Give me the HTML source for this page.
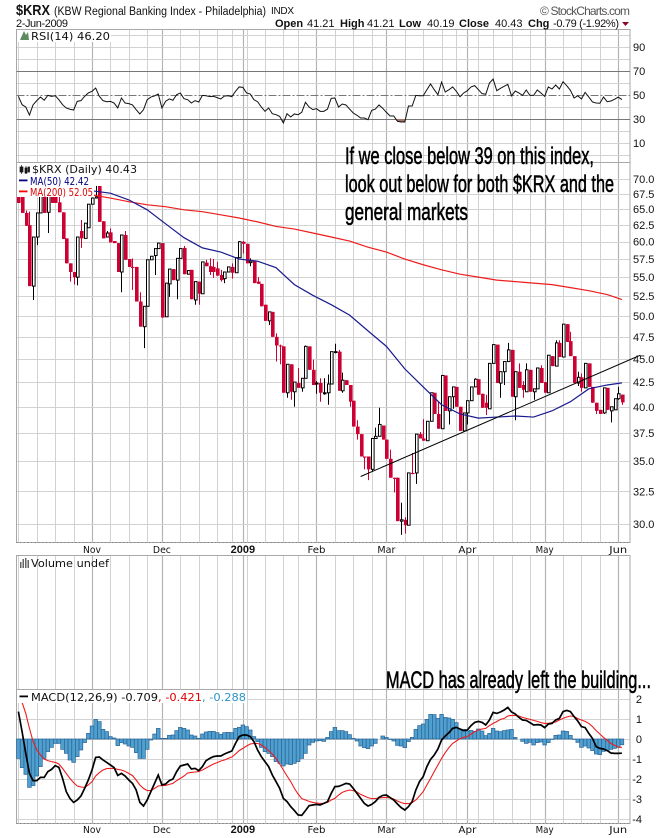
<!DOCTYPE html>
<html lang="en">
<head>
<meta charset="utf-8">
<title>$KRX chart</title>
<style>
html,body{margin:0;padding:0;background:#fff;}
svg{display:block;}
text{font-family:"Liberation Sans",sans-serif;fill:#111;}
.mono{font-family:"DejaVu Sans",sans-serif;font-size:10.5px;}
.month{font-family:"DejaVu Sans",sans-serif;font-size:10px;}
.leg{font-family:"DejaVu Sans",sans-serif;font-size:10.5px;}
.note{font-family:"Liberation Sans Narrow","Liberation Sans",sans-serif;font-size:24px;fill:#000;stroke:#000;stroke-width:.55;}
</style>
</head>
<body>
<svg id="chart" xmlns="http://www.w3.org/2000/svg" width="670" height="838" viewBox="0 0 670 838">
  <rect width="670" height="838" fill="#fff"/>
  <g id="grid"></g>
  <g id="rsiLayer"></g>
  <g id="priceLayer"></g>
  <g id="macdLayer"></g>
  <g id="axes"></g>

  <g>
    <text x="16" y="15" font-size="15" font-weight="bold" textLength="34" lengthAdjust="spacingAndGlyphs">$KRX</text>
    <text x="54" y="15" font-size="11.5" textLength="212" lengthAdjust="spacingAndGlyphs">(KBW Regional Banking Index - Philadelphia)</text>
    <text x="271" y="14" font-size="10" textLength="23">INDX</text>
    <text x="16" y="27" font-size="11" textLength="52">2-Jun-2009</text>
    <text x="540" y="15" font-size="12" fill="#555" style="fill:#555" textLength="90">© StockCharts.com</text>
    <text x="275" y="27" font-size="11" font-weight="bold">Open</text>
    <text x="307" y="27" font-size="11">41.21</text>
    <text x="340" y="27" font-size="11" font-weight="bold">High</text>
    <text x="367" y="27" font-size="11">41.21</text>
    <text x="399" y="27" font-size="11" font-weight="bold">Low</text>
    <text x="427" y="27" font-size="11">40.19</text>
    <text x="459" y="27" font-size="11" font-weight="bold">Close</text>
    <text x="495" y="27" font-size="11">40.43</text>
    <text x="528" y="27" font-size="11" font-weight="bold">Chg</text>
    <text x="553" y="27" font-size="11" textLength="66">-0.79 (-1.92%)</text>
    <polygon points="622,22 629,22 625.5,26" fill="#8b0a2a"/>
  </g>

  <g>
    <rect x="17" y="30" width="94" height="12" fill="#fff"/>
    <polygon points="20,40 24,31 26,35 28,32 29,40" fill="#5f8a5f"/>
    <text class="mono" x="31" y="40" textLength="79" lengthAdjust="spacingAndGlyphs">RSI(14) 46.20</text>
  </g>

  <g>
    <rect x="17" y="163" width="77" height="34" fill="#fff"/>
    <rect x="17" y="163" width="121" height="11" fill="#fff"/>
    <path d="M20 167h3v5h-3zM21.500 165v9M25 168h2v5h-2zM26 166v8M28 167h1.500v5H28z" fill="#222" stroke="#111" stroke-width=".7"/>
    <text class="mono" x="32" y="173" textLength="105" lengthAdjust="spacingAndGlyphs">$KRX (Daily) 40.43</text>
    <rect x="19" y="179.500" width="8.500" height="1.800" fill="#000080"/>
    <text class="leg" x="30" y="185" style="fill:#000080" textLength="59" lengthAdjust="spacingAndGlyphs">MA(50) 42.42</text>
    <rect x="19" y="190.500" width="8.500" height="1.800" fill="#ff0000"/>
    <text class="leg" x="30" y="196" style="fill:#e00000" textLength="63" lengthAdjust="spacingAndGlyphs">MA(200) 52.05</text>
  </g>

  <g>
    <path d="M20 562h1.500v6H20zM22.500 559h1.500v9h-1.500zM25 558h1.500v10H25zM27.500 560h1.500v8h-1.500z" fill="#666"/>
    <text class="mono" x="31" y="567" textLength="78" lengthAdjust="spacingAndGlyphs">Volume undef</text>
  </g>

  <g>
    <rect x="17" y="690" width="230" height="13" fill="#fff"/>
    <rect x="19.500" y="695.500" width="8.500" height="1.800" fill="#000"/>
    <text class="mono" x="31" y="701" textLength="215" lengthAdjust="spacingAndGlyphs"><tspan>MACD(12,26,9) -0.709</tspan><tspan style="fill:#e00000">, -0.421</tspan><tspan style="fill:#2e93c9">, -0.288</tspan></text>
  </g>

  <g>
    <text class="note" x="345" y="164" textLength="249" lengthAdjust="spacingAndGlyphs">If we close below 39 on this index,</text>
    <text class="note" x="345" y="192" textLength="269" lengthAdjust="spacingAndGlyphs">look out below for both $KRX and the</text>
    <text class="note" x="345" y="220" textLength="123" lengthAdjust="spacingAndGlyphs">general markets</text>
    <text class="note" x="386" y="688" textLength="265" lengthAdjust="spacingAndGlyphs">MACD has already left the building...</text>
  </g>
</svg>

<script>
const weekBars = [0,5,10,15,25,30,35,44,49,54,58,62,67,72,76,86,91,96,105,110,115,119,125,129,134,139,148,153,158];
const monthBars = [20,39,61,81,100,122,143,163];
const monthNames = ['Nov','Dec','2009','Feb','Mar','Apr','May','Jun'];
const rsiTicks = [90,70,50,30,10];
const rsiGridLevels = [100,90,80,60,40,20,10,0];
const priceTicks = [70,67.5,65,62.5,60,57.5,55,52.5,50,47.5,45,42.5,40,37.5,35,32.5,30];
const macdTicks = [2,1,0,-1,-2,-3,-4];

const opens = [68.1,67.3,64.4,62.5,53.8,60.7,64.4,68.1,64.5,68.1,
68.1,66.1,64.5,60.5,56.9,55.7,55.0,61.6,60.5,62.1,
65.8,66.8,68.8,63.1,60.7,61.4,60.1,59.8,55.7,61,
57.5,56.4,56.4,51.8,48.7,51.2,57.4,58,59,59.8,
49.9,54.1,56.1,54.6,57.6,59.1,55.4,56,52,54.4,
52.8,57,56.5,56.4,56.2,55.3,54.8,55.7,56.4,55.6,
57.7,60,59.7,57,57.2,54.4,54.1,51.4,49.4,50.5,
47.5,46.5,46.4,41.4,44.4,41.5,42.4,41.9,42.9,46.4,
43.8,42.3,42.4,41.3,41.4,42.3,45.7,45.8,41.6,42.7,
42.2,40.6,38.1,37.4,35.4,35.4,34.3,37,37.2,38.2,
36.9,35.2,33.6,33.6,30.2,30.3,29.9,34,34,37.4,
37,36.8,38.6,41.4,39.3,37.9,43.2,39.6,41,42,
40,37.7,39.4,40.6,42,42.8,41.3,40.4,39.8,44.5,
46.6,42.4,43.6,44.7,46,41,43.6,42.2,41.5,43.8,
41.5,41.8,44,42.5,41.4,45.3,44.2,46.8,45.2,49,
47,45.3,42.4,43,41.9,44.5,42,40.4,39.7,39.4,
41.9,39.6,39.7,40.8,41.21];

const highs = [69,68,64.8,64.6,60.7,64.4,68.1,69,68.5,69,
68.6,67,64.5,60.5,56.9,55.7,60.7,63.3,62.8,65.8,
66.8,68.8,68.8,63.1,61.6,62,60.1,59.8,61,61.6,
57.5,57.6,56.4,53,51.2,57.4,57.9,59,59.8,59.8,
54.2,56.1,56.1,57.6,59,59.4,55.9,56,54.4,54.4,
57.1,57.4,57.6,57.5,57.1,56,55.7,56.4,56.9,57.7,
60.1,60.1,59.7,57.6,57.2,55,54.1,51.4,50.5,50.5,
47.9,46.6,46.4,44.4,44.4,42.5,44,42.9,46.5,46.4,
44.9,42.6,42.9,42.9,43.3,45.8,46.7,46,43.5,42.7,
42.2,40.6,38.7,37.4,35.4,35.4,37,38,39.9,38.2,
36.9,36,33.6,33.6,31.6,30.5,34,35.7,37.4,37.6,
38.8,38.6,41.4,41.4,40.5,43.2,43.2,41,42,42,
40,39.4,40.6,42,42.9,42.8,41.3,41.2,44.5,46.6,
46.6,43.6,44.7,46.8,46,43.6,44.5,42.6,44.5,43.8,
41.8,44,44.3,42.5,45.4,45.3,47.1,47.1,49,49,
48.1,45.3,43.6,43.4,44.5,44.5,42,40.4,39.7,41.9,
41.9,40,40.8,42,41.21];

const lows = [66,64.4,62.4,53.8,52,59.5,64.4,64.4,61.3,66,
66,64.5,60.4,56.9,54.4,54,53.9,59.1,60.5,62.1,
65.8,66.8,63,60.5,60.7,59.9,59.8,55.7,53,57.4,
56.4,53.3,51.8,48.7,46.2,51.2,57.4,55.3,59,49.8,
49.9,52.4,54.6,52.1,57.6,55.4,55.4,52.1,51.4,51.4,
52.8,56.5,55.3,54.9,55.2,54.4,54.2,55.7,54.8,55.6,
57.7,58.3,56.9,56.5,54.2,54.1,51.2,49.4,48.9,47.5,
44.7,44.4,41.4,40.9,40.7,40,41.9,41.5,42.9,43.8,
42.2,41.3,40.5,41.2,40.2,42.3,45.6,41.6,41.4,42.2,
40,38.1,36.9,35.4,34.3,33.4,34.1,37,37.2,36.9,
35.2,33.6,32.4,30.2,29.2,29.3,29.9,33.9,33.1,37,
36.8,36.8,38.6,39.3,37.9,37.9,39.6,38.3,39.8,40,
37.7,37.7,38.3,40.6,42,41.2,39.9,39.2,39.8,44.5,
42.4,40.9,42.2,44.7,41,38.7,41.9,40.9,41.5,41.5,
40.7,41.8,42.4,41.4,41.4,44.2,44.2,45.2,45.2,46.9,
45.3,42.4,42.1,41.5,41.9,42,40.4,39.3,39.3,39.3,
39.7,38.5,39.7,40.7,40.19];

const closes = [66,64.4,62.4,53.8,60.7,64.4,68.1,64.4,67.8,66,
66,64.5,60.4,56.9,55.7,55,60.7,60.5,62.8,65.8,
66.8,67,63,60.5,61.3,59.9,59.8,55.7,61,57.4,
56.4,56.3,51.8,48.7,51.2,57.4,57.9,59,59.8,49.8,
54.2,56.1,54.6,57.6,59,55.4,55.9,52.1,54.4,52.8,
57.1,56.5,55.7,55.7,55.2,54.6,55.7,56.4,55.6,57.7,
60,59.7,56.9,57.2,54.2,54.1,51.2,49.4,50.5,47.5,
46.5,46.4,41.4,44.4,41.5,42.5,41.9,42.9,46.4,43.8,
42.2,42.4,41.4,41.4,42.3,45.8,45.8,41.6,42.7,42.2,
40.5,38.1,37.4,35.4,35.3,34.3,37,37.2,38.3,36.9,
35.2,33.6,33.5,30.2,30.3,29.9,34,33.9,37.4,37,
36.8,38.6,41.4,39.3,37.9,43.2,39.6,41,42,40,
37.7,39.4,40.6,42,42.8,41.2,39.9,39.9,44.5,46.6,
42.4,43.6,44.7,46,41,43.6,41.9,41.7,43.8,41.5,
41.8,44,42.4,41.4,45.4,44.2,46.8,45.2,49,46.9,
45.3,42.4,43,41.9,44.5,42,40.4,39.6,39.3,41.9,
39.7,40,40.8,41.3,40.43];

const maBars = [0,5,10,15,20,25,30,35,40,45,50,55,60,65,70,75,80,85,90,95,100,105,110,115,120,125,130,135,140,145,150,155,160,164];
const ma50 = [69,68.8,68.6,68.5,68,67.6,66.5,64.9,62.7,60.6,59.1,58.5,57.5,57.2,56.3,54,52.6,51.4,50.1,48.2,46.4,43.9,42,40.2,39.3,38.9,39,39.1,39,39.6,40.5,41.8,42.2,42.42];
const ma200 = [68.8,68.5,68.1,67.6,67.3,66.8,66.2,65.7,65.4,64.9,64.6,64.1,63.6,63,62.3,61.9,61.3,60.7,60.1,59.2,58.5,57.5,56.7,56,55.4,55,54.6,54.4,54.2,54,53.6,53.2,52.7,52.05];

const trendBars = [93,169];
const trendPrices = [33.7,45.4];

const rsi = [48.9,41.9,40,33.3,41.9,45.3,48.3,45.6,49.7,48.9,
49.4,46.1,41.9,39.2,38.1,37.5,44.7,45.3,48.9,51.7,
53.1,55.8,48.9,45.3,44.4,44.7,43.3,39.2,47.5,43.3,
42.8,41.7,37.8,34.2,37.8,46.1,48.3,49.2,50.8,39.2,
44.7,46.7,45.6,50.3,51.7,46.9,46.1,43.3,45.3,44.2,
49.7,49.4,48.6,48.9,47.8,46.7,49.2,49.4,48.6,53.1,
56.7,56.4,51.7,50.8,46.1,44.4,40,36.4,39.2,34.4,
33.6,32.2,26.7,34.4,31.7,34.2,33.6,35.6,43.9,40,
37.8,38.6,36.4,36.4,38.3,47.2,47.5,40,42.5,41.7,
38.3,35,33.1,30.8,30.8,29.4,37.2,38.3,41.7,38.9,
35.6,32.5,32.5,28.1,27.5,27.5,40.8,40.8,49.7,49.4,
49.4,54.4,59.2,54.4,50.3,60.8,52.5,54.4,56.7,53.1,
48.6,51.7,53.6,56.7,57.8,54.4,51.1,50.6,60,63.3,
53.6,55.6,57.2,58.9,49.2,53.3,51.7,49.7,54.2,49.7,
49.7,54.2,51.7,48.9,56.7,55,58.3,55,61.1,57.8,
53.9,47.5,49.4,46.7,52.2,48.3,44.2,43.3,43.1,48.3,
44.4,45,46.4,48.3,46.2];

const macd = [1.37,.37,-.72,-1.72,-2.08,-2.08,-1.92,-1.92,-1.63,-1.52,
-1.33,-1.42,-1.97,-2.63,-2.97,-3.17,-3.05,-2.85,-2.47,-2.05,
-1.55,-.92,-.90,-1.05,-1.17,-1.30,-1.43,-1.82,-1.72,-1.85,
-2.05,-2.22,-2.55,-3.17,-3.35,-3.05,-2.63,-2.22,-1.80,-2.30,
-2.25,-2.08,-2.0,-1.63,-1.35,-1.30,-1.25,-1.5,-1.47,-1.58,
-1.38,-1.08,-.97,-.88,-.85,-.85,-.75,-.67,-.60,-.22,
.12,.2,.2,.12,-.13,-.55,-.88,-1.13,-1.38,-1.8,
-2.13,-2.47,-2.97,-3.13,-3.38,-3.58,-3.8,-3.82,-3.58,-3.33,
-3.3,-3.27,-3.3,-3.22,-3.13,-2.72,
-2.38,-2.37,-2.3,-2.22,-2.25,-2.47,-2.72,-2.97,-3.22,-3.35,
-3.27,-3.13,-2.92,-2.82,-2.8,-2.93,-3.05,-3.25,-3.43,-3.55,
-3.38,-3.13,-2.55,-2.13,-1.88,-1.38,-1.02,-.8,-.5,-.05,
.15,.32,.53,.58,.5,.42,.45,.67,.83,.88,
.83,.7,.95,1.33,1.28,1.35,1.45,1.58,1.35,1.25,
1.08,.95,.93,.82,.7,.72,.7,.57,.75,.78,
.95,1.03,1.37,1.43,1.37,1.12,.9,.62,.57,.28,
.03,-.38,-.47,-.5,-.58,-.7,-.72,-.72,-.709];

const signal = [2.45,1.83,1.28,.53,-.13,-.55,-.8,-1,-1.08,-1.13,
-1.17,-1.25,-1.47,-1.72,-1.97,-2.18,-2.35,-2.4,-2.42,-2.3,
-2.13,-1.85,-1.68,-1.55,-1.48,-1.47,-1.47,-1.52,-1.55,-1.62,
-1.72,-1.83,-2.05,-2.3,-2.47,-2.58,-2.58,-2.47,-2.35,-2.33,
-2.32,-2.27,-2.22,-2.08,-1.97,-1.85,-1.7,-1.67,-1.65,-1.63,
-1.55,-1.45,-1.35,-1.25,-1.18,-1.1,-1.05,-.97,-.9,-.75,
-.58,-.47,-.35,-.25,-.22,-.22,-.3,-.42,-.58,-.75,
-.97,-1.25,-1.55,-1.85,-2.13,-2.47,-2.75,-2.98,-3.05,-3.12,
-3.17,-3.2,-3.22,-3.22,-3.17,-3.05,
-2.97,-2.8,-2.67,-2.6,-2.55,-2.58,-2.65,-2.77,-2.85,-2.93,
-2.98,-2.97,-2.95,-2.93,-2.92,-2.95,-3,-3.1,-3.18,-3.23,
-3.23,-3.18,-3.05,-2.85,-2.63,-2.3,-1.97,-1.63,-1.3,-.97,
-.68,-.43,-.22,-.1,.02,.08,.12,.25,.37,.45,
.5,.53,.67,.78,.87,.98,1.03,1.15,1.18,1.18,
1.15,1.08,1.03,.98,.93,.88,.82,.78,.78,.82,
.85,.95,1.03,1.1,1.15,1.12,1.02,.95,.88,.78,
.62,.42,.25,.08,-.07,-.22,-.32,-.4,-.421];

const hist = [-.97,-1.43,-1.77,-2.42,-2.33,-1.85,-1.38,-.97,-.63,-.42,
-.22,-.22,-.52,-.72,-1.05,-1.17,-.88,-.55,-.18,.28,
.65,.98,.87,.48,.37,.12,.05,-.33,-.18,-.25,
-.35,-.42,-.68,-.97,-.97,-.52,-.05,.25,.53,.03,
.03,.18,.2,.42,.58,.53,.45,.2,.15,.03,
.25,.35,.38,.38,.32,.23,.32,.33,.32,.53,
.58,.7,.62,.45,.12,-.13,-.42,-.63,-.72,-.88,
-1.13,-1.22,-1.35,-1.25,-1.28,-1.22,-1.13,-.97,-.72,-.3,
-.17,-.1,-.08,-.12,.08,.37,
.58,.42,.42,.37,.22,.03,-.1,-.35,-.43,-.48,
-.35,-.22,0,.15,.08,-.02,-.1,-.32,-.35,-.43,
-.13,.08,.48,.67,.75,.98,1.23,1.22,1.03,1.23,
1.08,1.05,.98,.82,.5,.48,.4,.43,.38,.5,
.4,.17,.28,.53,.4,.37,.42,.45,.48,.08,
0,-.12,-.22,-.17,-.3,-.18,-.15,-.3,-.18,-.02,
.18,.2,.4,.38,.18,-.02,-.17,-.42,-.35,-.45,
-.58,-.75,-.78,-.62,-.58,-.52,-.47,-.42,-.288];

const NS = 'http://www.w3.org/2000/svg';
const PLOT_LEFT = 16.5, PLOT_RIGHT = 630;
const PANELS = {rsi:[29,162], price:[162,542], volume:[555,689], macd:[689,823]};

function xScale(i){ return 18.4 + 3.68 * i; }
function yRsi(v){ return 95 - (v - 50) * 1.2; }
function yPrice(p){ return 179 + 407 * Math.log(70 / p); }
function yMacd(v){ return 739 - 20 * v; }

function make(parent, tag, attrs){
  const node = document.createElementNS(NS, tag);
  for (const k in attrs) node.setAttribute(k, attrs[k]);
  parent.appendChild(node);
  return node;
}
function pointsOf(values, yFn, barsOf){
  return values.map((v, k) => xScale(barsOf ? barsOf[k] : k).toFixed(2) + ',' + yFn(v).toFixed(2)).join(' ');
}

const gridLayer = document.getElementById('grid');
const rsiLayer = document.getElementById('rsiLayer');
const priceLayer = document.getElementById('priceLayer');
const macdLayer = document.getElementById('macdLayer');
const axes = document.getElementById('axes');

/* vertical grid */
Object.keys(PANELS).forEach(function(name){
  const span = PANELS[name];
  weekBars.forEach(function(b){
    const x = Math.round(xScale(b)) + .5;
    const el = make(gridLayer, 'line', {x1:x, x2:x, y1:span[0], y2:span[1], stroke:'#d2d2d2', 'stroke-width':1});
    
    
  });
  monthBars.forEach(function(b){
    const x = Math.round(xScale(b)) + .5;
    const el = make(gridLayer, 'line', {x1:x, x2:x, y1:span[0], y2:span[1], stroke:'#b4b4b4', 'stroke-width':1.2});
    
    
  });
});

/* horizontal grid */
function hGrid(y, color, name){
  const yy = Math.round(y) + .5;
  const el = make(gridLayer, 'line', {x1:PLOT_LEFT, x2:PLOT_RIGHT, y1:yy, y2:yy, stroke:color, 'stroke-width':1});
  
  
  return el;
}
rsiGridLevels.forEach(function(v){ hGrid(yRsi(v), '#d2d2d2', 'rsi-gridline'); });
priceTicks.forEach(function(p){ hGrid(yPrice(p), '#d2d2d2', 'price-gridline'); });
macdTicks.forEach(function(v){ hGrid(yMacd(v), '#d2d2d2', 'macd-gridline'); });

/* panel frames */
Object.keys(PANELS).forEach(function(name){
  const span = PANELS[name];
  const el = make(gridLayer, 'rect', {x:PLOT_LEFT, y:span[0] + .5, width:PLOT_RIGHT - PLOT_LEFT, height:span[1] - span[0], fill:'none', stroke:'#a8a8a8', 'stroke-width':1});
  
  
});
[542.5, 823.5].forEach(function(y){
  const el = make(gridLayer, 'line', {x1:PLOT_LEFT, x2:PLOT_RIGHT, y1:y, y2:y, stroke:'#777', 'stroke-width':1, 'stroke-dasharray':'1 2.68'});
  
  
});

/* RSI reference lines */
[70,30].forEach(function(v){
  const yy = Math.round(yRsi(v)) + .5;
  const el = make(rsiLayer, 'line', {x1:PLOT_LEFT, x2:PLOT_RIGHT, y1:yy, y2:yy, stroke:'#777', 'stroke-width':1});
  
  
});
const midY = Math.round(yRsi(50)) + .5;
const midLine = make(rsiLayer, 'line', {x1:PLOT_LEFT, x2:PLOT_RIGHT, y1:midY, y2:midY, stroke:'#777', 'stroke-width':1, 'stroke-dasharray':'8 2 2 2'});



/* RSI oversold fill */
const clip = make(document.getElementById('chart'), 'clipPath', {id:'below30'});
const clipRect = make(clip, 'rect', {x:0, y:yRsi(30), width:670, height:30});


const rsiFill = make(rsiLayer, 'polygon', {
  points: xScale(0) + ',' + yRsi(30) + ' ' + pointsOf(rsi, yRsi) + ' ' + xScale(rsi.length - 1) + ',' + yRsi(30),
  fill:'#a5756b', 'clip-path':'url(#below30)'
});


const rsiLine = make(rsiLayer, 'polyline', {points:pointsOf(rsi, yRsi), fill:'none', stroke:'#111', 'stroke-width':1});



/* candles */
closes.forEach(function(c, i){
  const o = opens[i], h = highs[i], l = lows[i];
  const x = Math.round(xScale(i));
  const up = c >= o;
  const color = up ? '#000' : '#cc0033';
  const wick = make(priceLayer, 'line', {x1:x + .5, x2:x + .5, y1:yPrice(h), y2:yPrice(l), stroke:color, 'stroke-width':1});
  
  
  const top = yPrice(Math.max(o, c)), bottom = yPrice(Math.min(o, c));
  let body;
  if (up) {
    body = make(priceLayer, 'rect', {x:x - .5, y:top, width:2.6, height:Math.max(bottom - top, .8), fill:'#fff', stroke:'#000', 'stroke-width':1});
  } else {
    body = make(priceLayer, 'rect', {x:x - 1, y:top, width:3.6, height:Math.max(bottom - top, 1), fill:'#cc0033'});
  }
  
  
});

/* moving averages */
const ma200Line = make(priceLayer, 'polyline', {points:pointsOf(ma200, yPrice, maBars), fill:'none', stroke:'#ee1c1c', 'stroke-width':1.2});


const ma50Line = make(priceLayer, 'polyline', {points:pointsOf(ma50, yPrice, maBars), fill:'none', stroke:'#1a1a90', 'stroke-width':1.2});



/* trend line */
const trend = make(priceLayer, 'line', {x1:xScale(trendBars[0]), y1:yPrice(trendPrices[0]), x2:xScale(trendBars[1]), y2:yPrice(trendPrices[1]), stroke:'#000', 'stroke-width':1});



/* MACD histogram */
hist.forEach(function(v, i){
  const x = xScale(i) - 1.84;
  const y0 = yMacd(0), y1 = yMacd(v);
  const bar = make(macdLayer, 'rect', {x:x.toFixed(2), y:Math.min(y0, y1), width:3.68, height:Math.abs(y1 - y0), fill:'#4f9fcf', stroke:'#2c6496', 'stroke-width':.7});
  
  
});
const signalLine = make(macdLayer, 'polyline', {points:pointsOf(signal, yMacd), fill:'none', stroke:'#ee1c1c', 'stroke-width':1.1});


const macdLine = make(macdLayer, 'polyline', {points:pointsOf(macd, yMacd), fill:'none', stroke:'#000', 'stroke-width':1.7});



/* tick labels */
rsiTicks.forEach(function(v){
  const t = make(axes, 'text', {x:633, y:yRsi(v) + 4, 'font-size':11});
  t.textContent = String(v);
  
  
});
priceTicks.forEach(function(p){
  const t = make(axes, 'text', {x:633, y:yPrice(p) + 4, 'font-size':11});
  t.textContent = p.toFixed(1);
  
  
});
macdTicks.forEach(function(v){
  const t = make(axes, 'text', {x:642, y:yMacd(v) + 4, 'font-size':11, 'text-anchor':'end'});
  t.textContent = String(v);
  
  
});
[553, 833].forEach(function(y){
  monthNames.forEach(function(name, k){
    const isYear = name === '2009';
    const t = make(axes, 'text', {x:xScale(monthBars[k]), y:y, 'text-anchor':'middle'});
    if (isYear) {
      t.setAttribute('font-size', '11');
      t.setAttribute('font-weight', 'bold');
    } else {
      t.setAttribute('class', 'month');
      t.setAttribute('textLength', '18');
      t.setAttribute('lengthAdjust', 'spacingAndGlyphs');
    }
    t.textContent = name;
    
    
  });
});
</script>
</body>
</html>
